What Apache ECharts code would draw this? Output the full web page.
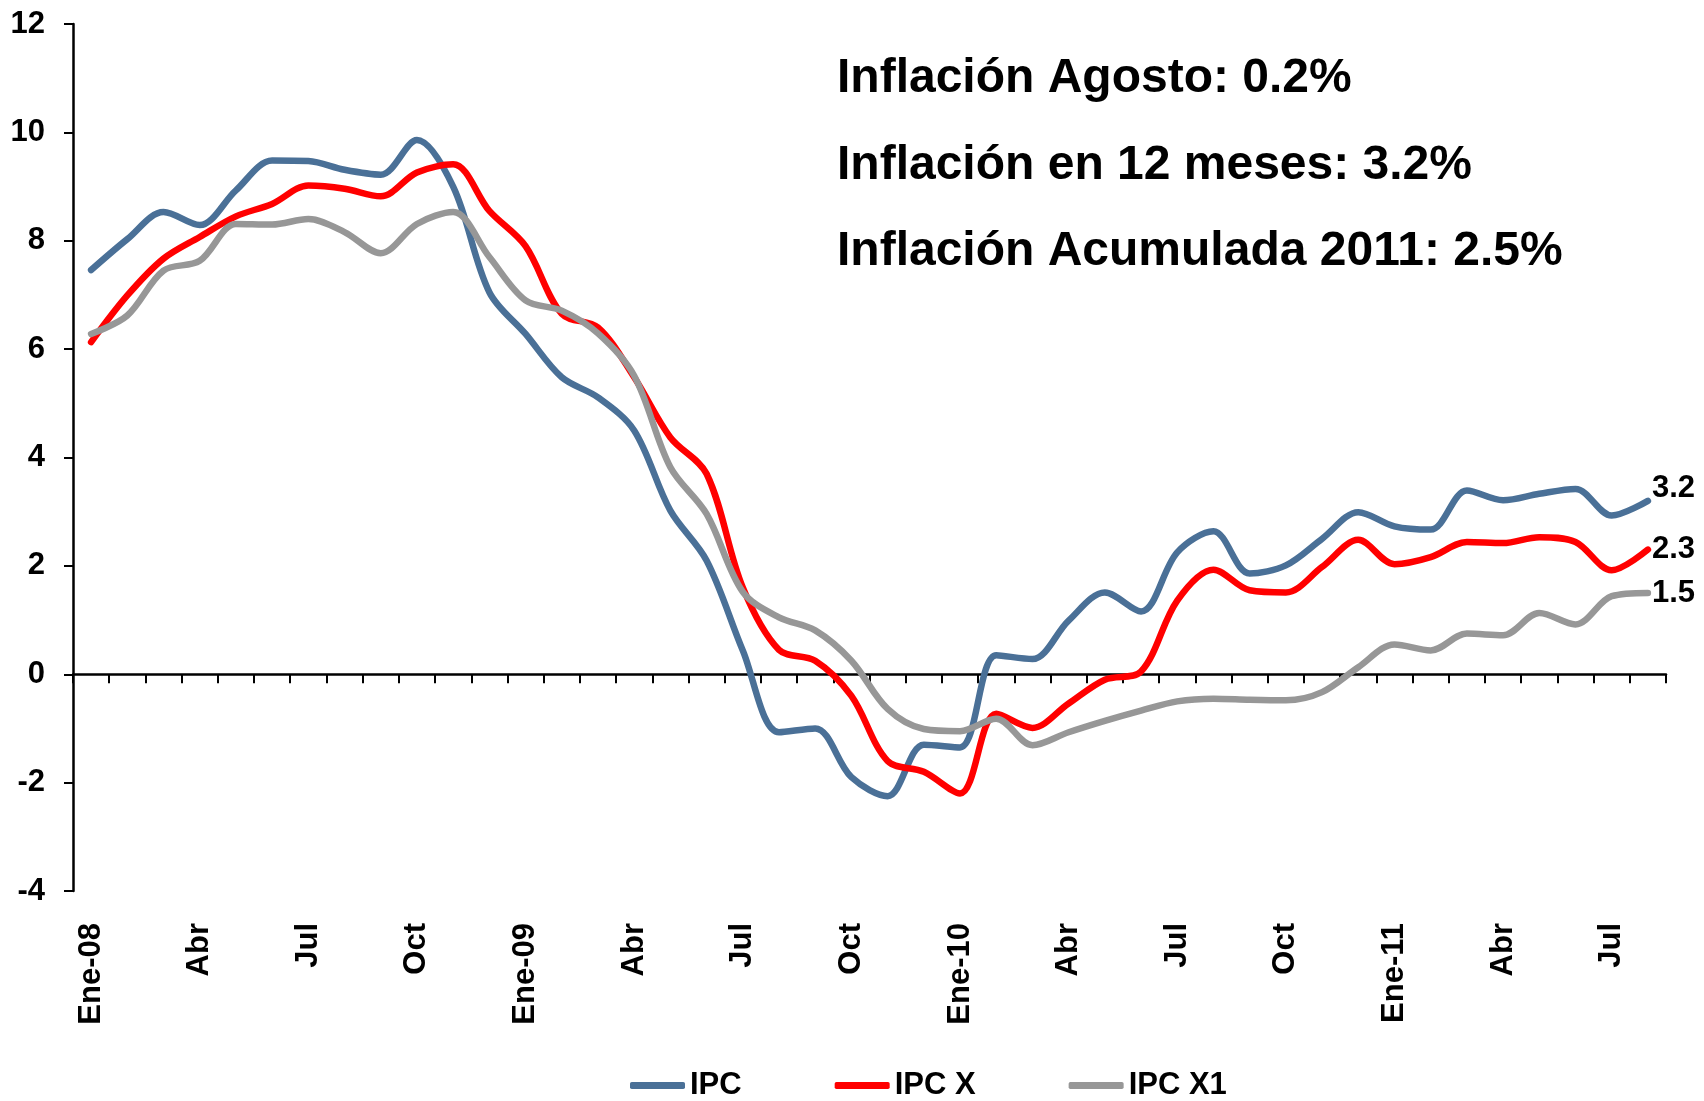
<!DOCTYPE html>
<html>
<head>
<meta charset="utf-8">
<title>Inflación</title>
<script src="https://cdn.jsdelivr.net/npm/echarts@6/dist/echarts.min.js"></script>
<style>
  html, body { margin: 0; padding: 0; background: #fff; }
  #chart { width: 1704px; height: 1101px; }
</style>
</head>
<body>
<div id="chart"></div>
<script>
// meses Ene-08 .. Ago-11
var months = [
  'Ene-08','Feb','Mar','Abr','May','Jun','Jul','Ago','Sep','Oct','Nov','Dic',
  'Ene-09','Feb','Mar','Abr','May','Jun','Jul','Ago','Sep','Oct','Nov','Dic',
  'Ene-10','Feb','Mar','Abr','May','Jun','Jul','Ago','Sep','Oct','Nov','Dic',
  'Ene-11','Feb','Mar','Abr','May','Jun','Jul','Ago'
];

var ipc = [
  7.46, 8.03, 8.53, 8.29, 8.93, 9.48, 9.47, 9.31, 9.22, 9.86, 9.0, 7.05,
  6.28, 5.48, 5.11, 4.5, 3.02, 2.1, 0.44, -1.07, -1.0, -1.9, -2.25, -1.3,
  -1.35, 0.35, 0.28, 0.99, 1.51, 1.16, 2.25, 2.64, 1.86, 2.01, 2.5, 2.99,
  2.73, 2.67, 3.39, 3.21, 3.33, 3.42, 2.93, 3.2
];

var ipcX = [
  6.13, 6.99, 7.67, 8.07, 8.45, 8.68, 9.02, 8.96, 8.82, 9.26, 9.41, 8.55,
  7.9, 6.65, 6.4, 5.48, 4.37, 3.7, 1.6, 0.45, 0.25, -0.4, -1.6, -1.8,
  -2.2, -0.73, -0.99, -0.54, -0.1, 0.05, 1.36, 1.93, 1.55, 1.51, 1.98, 2.48,
  2.03, 2.16, 2.44, 2.42, 2.53, 2.44, 1.92, 2.3
];

var ipcX1 = [
  6.28, 6.62, 7.45, 7.63, 8.31, 8.3, 8.4, 8.16, 7.77, 8.31, 8.53, 7.7,
  6.9, 6.71, 6.29, 5.51, 3.82, 2.96, 1.52, 1.05, 0.81, 0.25, -0.64, -1.01,
  -1.05, -0.82, -1.31, -1.07, -0.86, -0.67, -0.5, -0.45, -0.47, -0.48, -0.33, 0.13,
  0.55, 0.44, 0.75, 0.72, 1.13, 0.92, 1.44, 1.5
];

var notes = [
  'Inflación Agosto: 0.2%',
  'Inflación en 12 meses: 3.2%',
  'Inflación Acumulada 2011: 2.5%'
];

var FONT = '"Liberation Sans", Arial, sans-serif';
var C_IPC = '#4a7097', C_X = '#ff0000', C_X1 = '#979797';

function lineSeries(name, data, color, labelOffset) {
  return {
    name: name,
    type: 'line',
    data: data,
    xAxisIndex: 0,
    smooth: 0.33,
    symbol: 'none',
    lineStyle: { color: color, width: 6.5, cap: 'round', join: 'round' },
    itemStyle: { color: color },
    endLabel: {
      show: true,
      distance: 4,
      offset: labelOffset || [0, 0],
      color: '#000',
      fontFamily: FONT,
      fontWeight: 'bold',
      fontSize: 31,
      formatter: function (p) { return Number(p.value).toFixed(1); }
    },
    emphasis: { disabled: true },
    animation: false
  };
}

var chart = echarts.init(document.getElementById('chart'));

chart.setOption({
  backgroundColor: '#fff',
  animation: false,
  grid: { left: 73, right: 38, top: 24, bottom: 210, containLabel: false, outerBoundsMode: 'none' },
  legend: {
    left: 625,
    top: 1065,
    itemWidth: 55,
    itemHeight: 7,
    itemGap: 93,
    icon: 'roundRect',
    textStyle: { color: '#000', fontFamily: FONT, fontWeight: 'bold', fontSize: 31 },
    data: ['IPC', 'IPC X', 'IPC X1']
  },
  xAxis: [
    {
      type: 'category',
      data: months,
      position: 'bottom',
      axisLine: { show: false, onZero: false },
      axisTick: { show: false },
      axisLabel: {
        interval: 2,
        rotate: 90,
        margin: 32,
        color: '#000',
        fontFamily: FONT,
        fontWeight: 'bold',
        fontSize: 31
      },
      splitLine: { show: false }
    },
    {
      type: 'category',
      data: months,
      position: 'bottom',
      axisLine: { show: true, onZero: true, onZeroAxisIndex: 0, lineStyle: { color: '#000', width: 2.5 } },
      axisTick: { show: true, interval: 0, length: 9, lineStyle: { color: '#000', width: 2 } },
      axisLabel: { show: false },
      splitLine: { show: false }
    }
  ],
  yAxis: {
    type: 'value',
    min: -4,
    max: 12,
    interval: 2,
    axisLine: { show: true, onZero: false, lineStyle: { color: '#000', width: 2.5 } },
    axisTick: { show: true, length: 9, lineStyle: { color: '#000', width: 2 } },
    axisLabel: {
      margin: 28,
      color: '#000',
      fontFamily: FONT,
      fontWeight: 'bold',
      fontSize: 31
    },
    splitLine: { show: false }
  },
  graphic: notes.map(function (t, i) {
    return {
      type: 'text',
      left: 837,
      top: [55, 142, 228][i],
      style: {
        text: t,
        fill: '#000',
        font: 'bold 48px ' + FONT
      }
    };
  }),
  series: [
    lineSeries('IPC', ipc, C_IPC, [0, -12]),
    lineSeries('IPC X', ipcX, C_X),
    lineSeries('IPC X1', ipcX1, C_X1)
  ]
});
</script>
</body>
</html>
